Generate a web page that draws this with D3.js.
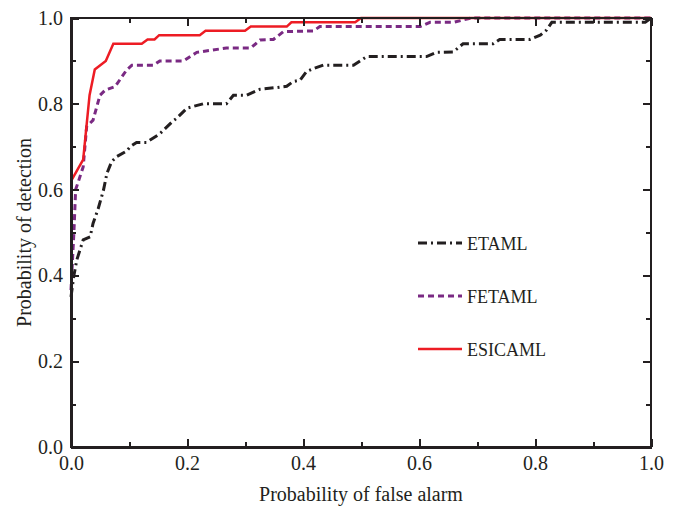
<!DOCTYPE html>
<html lang="en">
  <head>
    <meta charset="UTF-8" />
    <title>ROC</title>
    <style>
      body { margin: 0; background: #fff; }
      .axis path, .axis line { fill: none; stroke: #231f20; stroke-width: 2; shape-rendering: crispEdges; }
      .axis text { font-family: "Liberation Serif", "Times New Roman", serif; font-size: 20px; fill: #231f20; }
    </style>
  </head>
  <body>
    <div class="chart"></div>
    <script src="https://d3js.org/d3.v7.min.js"></script>
    <script>
      // data: [false alarm, detection]
      const etaml = [
        [0, 0.35], [0.005, 0.4], [0.01, 0.436], [0.021, 0.483], [0.033, 0.49],
        [0.038, 0.521], [0.047, 0.556], [0.056, 0.599], [0.062, 0.638], [0.07, 0.665],
        [0.079, 0.677], [0.096, 0.69], [0.102, 0.7], [0.113, 0.71], [0.13, 0.71],
        [0.153, 0.73], [0.176, 0.76], [0.182, 0.766], [0.2, 0.79], [0.228, 0.8],
        [0.268, 0.8], [0.28, 0.82], [0.303, 0.82], [0.326, 0.834], [0.355, 0.838],
        [0.372, 0.841], [0.383, 0.852], [0.395, 0.855], [0.406, 0.875], [0.418, 0.882],
        [0.435, 0.89], [0.487, 0.89], [0.51, 0.91], [0.613, 0.91], [0.63, 0.92],
        [0.659, 0.921], [0.676, 0.94], [0.728, 0.94], [0.739, 0.95], [0.791, 0.95],
        [0.809, 0.96], [0.82, 0.972], [0.829, 0.99], [0.99, 0.99], [1, 1]
      ];
      const fetaml = [
        [0, 0.366], [0.005, 0.5], [0.008, 0.6], [0.013, 0.62], [0.021, 0.653],
        [0.027, 0.747], [0.038, 0.762], [0.05, 0.82], [0.059, 0.832], [0.076, 0.84],
        [0.096, 0.879], [0.105, 0.89], [0.142, 0.89], [0.153, 0.9], [0.194, 0.9],
        [0.217, 0.92], [0.268, 0.93], [0.31, 0.93], [0.326, 0.949], [0.349, 0.95],
        [0.366, 0.968], [0.418, 0.97], [0.429, 0.98], [0.602, 0.98], [0.619, 0.99],
        [0.66, 0.99], [0.69, 1.0], [1, 1]
      ];
      const esicaml = [
        [0, 0.62], [0.021, 0.67], [0.032, 0.82], [0.041, 0.88], [0.06, 0.9],
        [0.073, 0.94], [0.122, 0.94], [0.132, 0.95], [0.144, 0.95], [0.152, 0.96],
        [0.222, 0.96], [0.232, 0.97], [0.3, 0.97], [0.31, 0.98], [0.372, 0.98],
        [0.38, 0.99], [0.49, 0.99], [0.5, 1.0], [1, 1]
      ];
      const seriesNames = ["ETAML", "FETAML", "ESICAML"];
      const majorTicks = [0, 0.2, 0.4, 0.6, 0.8, 1.0];
      const minorTicks = [0.1, 0.3, 0.5, 0.7, 0.9];

      const w = 680, h = 506;
      const margin = { top: 18, right: 29, bottom: 59, left: 71 };

      const svg = d3.select(".chart").append("svg").attr("width", w).attr("height", h);

      const x = d3.scaleLinear().domain([0, 1]).range([margin.left, w - margin.right]);
      const y = d3.scaleLinear().domain([0, 1]).range([h - margin.bottom, margin.top]);

      const styles = [
        { color: "#231f20", dash: "9,4,2,4", width: 3 },
        { color: "#7a2a83", dash: "6,4", width: 3 },
        { color: "#ed1c24", dash: null, width: 2.5 }
      ];

      // curves
      const line = d3.line().x((d) => x(d[0])).y((d) => y(d[1]));
      [etaml, fetaml, esicaml].forEach((data, i) => {
        svg.append("path")
          .datum(data)
          .attr("d", line)
          .attr("fill", "none")
          .attr("stroke", styles[i].color)
          .attr("stroke-width", styles[i].width)
          .attr("stroke-dasharray", styles[i].dash);
      });

      // axes, ticks pointing inward on all four sides
      const fmt = d3.format(".1f");
      const addAxis = (axisFn, scale, tx, ty, ticks, size, labels) => {
        const ax = axisFn(scale).tickValues(ticks).tickSizeInner(-size).tickSizeOuter(0)
          .tickFormat(labels ? fmt : "");
        const g = svg.append("g").attr("class", "axis")
          .attr("transform", `translate(${tx}, ${ty})`).call(ax);
        if (!labels) g.select(".domain").remove();
        return g;
      };
      const xb = addAxis(d3.axisBottom, x, 0, h - margin.bottom, majorTicks, 8, true);
      xb.selectAll("text").attr("dy", "0.95em").attr("y", 4);
      addAxis(d3.axisBottom, x, 0, h - margin.bottom, minorTicks, 5, false);
      const yl = addAxis(d3.axisLeft, y, margin.left, 0, majorTicks, 8, true);
      yl.selectAll("text").attr("x", -8);
      addAxis(d3.axisLeft, y, margin.left, 0, minorTicks, 5, false);
      const xt = addAxis(d3.axisTop, x, 0, margin.top, majorTicks, 8, false);
      addAxis(d3.axisTop, x, 0, margin.top, minorTicks, 5, false);
      addAxis(d3.axisRight, y, w - margin.right, 0, majorTicks, 8, false);
      addAxis(d3.axisRight, y, w - margin.right, 0, minorTicks, 5, false);

      // frame
      svg.append("rect")
        .attr("x", margin.left).attr("y", margin.top)
        .attr("width", w - margin.left - margin.right)
        .attr("height", h - margin.top - margin.bottom)
        .attr("fill", "none").attr("stroke", "#231f20").attr("stroke-width", 2)
        .attr("shape-rendering", "crispEdges");

      // axis titles
      svg.append("text")
        .attr("x", x(0.5)).attr("y", 501)
        .attr("text-anchor", "middle")
        .style("font-family", "Liberation Serif, serif").style("font-size", "20px").style("fill", "#231f20")
        .text("Probability of false alarm");
      svg.append("text")
        .attr("transform", `translate(31, ${y(0.5)}) rotate(-90)`)
        .attr("text-anchor", "middle")
        .style("font-family", "Liberation Serif, serif").style("font-size", "20px").style("fill", "#231f20")
        .text("Probability of detection");

      // legend
      const legendY = [243, 296, 349];
      seriesNames.forEach((name, i) => {
        svg.append("line")
          .attr("x1", 418).attr("x2", 462)
          .attr("y1", legendY[i]).attr("y2", legendY[i])
          .attr("stroke", styles[i].color)
          .attr("stroke-width", styles[i].width)
          .attr("stroke-dasharray", styles[i].dash);
        svg.append("text")
          .attr("x", 467).attr("y", legendY[i] + 7)
          .style("font-family", "Liberation Serif, serif").style("font-size", "18px").style("fill", "#231f20")
          .text(name);
      });
    </script>
  </body>
</html>
